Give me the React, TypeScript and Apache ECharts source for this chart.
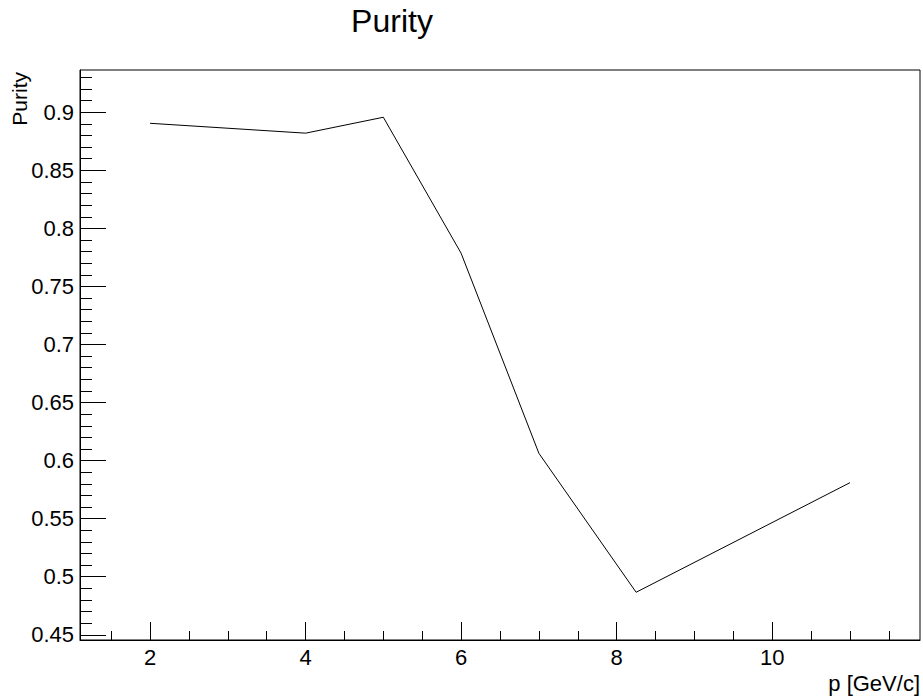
import React, { useEffect, useRef } from "react";
import * as echarts from "echarts";

const momentum = [2, 4, 5, 6, 7, 8.25, 11];
const purity = [0.8905, 0.882, 0.8957, 0.7786, 0.6063, 0.4866, 0.581];

const xMajorTicks = [2, 4, 6, 8, 10];
const xMinorTicks = [1.5, 2.5, 3, 3.5, 4.5, 5, 5.5, 6.5, 7, 7.5, 8.5, 9, 9.5, 10.5, 11, 11.5];
const yMajorTicks = [0.45, 0.5, 0.55, 0.6, 0.65, 0.7, 0.75, 0.8, 0.85, 0.9];
const yMinorTicks = [
  0.46, 0.47, 0.48, 0.49, 0.51, 0.52, 0.53, 0.54, 0.56, 0.57, 0.58, 0.59,
  0.61, 0.62, 0.63, 0.64, 0.66, 0.67, 0.68, 0.69, 0.71, 0.72, 0.73, 0.74,
  0.76, 0.77, 0.78, 0.79, 0.81, 0.82, 0.83, 0.84, 0.86, 0.87, 0.88, 0.89,
  0.91, 0.92, 0.93,
];

const X_MIN = 1.1;
const X_MAX = 11.9;
const Y_MIN = 0.4455;
const Y_MAX = 0.9364;

const FONT = '"Liberation Sans", Arial, Helvetica, sans-serif';

export default function App() {
  const ref = useRef<HTMLDivElement>(null);

  useEffect(() => {
    if (!ref.current) return;
    const chart = echarts.init(ref.current, null, { renderer: "svg" });
    const black = "#000";
    const option: any = {
      animation: false,
      backgroundColor: "#fff",
      grid: {
        left: 80,
        right: 3,
        top: 70,
        bottom: 57,
        show: true,
        borderColor: black,
        borderWidth: 1,
        backgroundColor: "transparent",
      },
      xAxis: [
        {
          type: "value",
          min: X_MIN,
          max: X_MAX,
          position: "bottom",
          axisLine: { show: true, lineStyle: { color: black, width: 1 } },
          axisTick: { show: true, inside: true, length: 18, customValues: xMajorTicks, lineStyle: { color: black } },
          axisLabel: { customValues: xMajorTicks, color: black, fontSize: 22, fontFamily: FONT, margin: 6 },
          splitLine: { show: false },
        },
        {
          type: "value",
          min: X_MIN,
          max: X_MAX,
          position: "bottom",
          axisLine: { show: false },
          axisTick: { show: true, inside: true, length: 9, customValues: xMinorTicks, lineStyle: { color: black } },
          axisLabel: { show: false },
          splitLine: { show: false },
        },
      ],
      yAxis: [
        {
          type: "value",
          min: Y_MIN,
          max: Y_MAX,
          position: "left",
          axisLine: { show: true, lineStyle: { color: black, width: 1 } },
          axisTick: { show: true, inside: true, length: 26, customValues: yMajorTicks, lineStyle: { color: black } },
          axisLabel: { customValues: yMajorTicks, color: black, fontSize: 22, fontFamily: FONT, margin: 6 },
          splitLine: { show: false },
        },
        {
          type: "value",
          min: Y_MIN,
          max: Y_MAX,
          position: "left",
          axisLine: { show: false },
          axisTick: { show: true, inside: true, length: 12, customValues: yMinorTicks, lineStyle: { color: black } },
          axisLabel: { show: false },
          splitLine: { show: false },
        },
      ],
      graphic: [
        {
          type: "text",
          x: 392,
          y: 21,
          style: { text: "Purity", fill: black, font: `32px ${FONT}`, align: "center", verticalAlign: "middle" },
        },
        {
          type: "text",
          x: 19.5,
          y: 72,
          rotation: Math.PI / 2,
          style: { text: "Purity", fill: black, font: `21px ${FONT}`, align: "right", verticalAlign: "middle" },
        },
        {
          type: "text",
          x: 920,
          y: 683,
          style: { text: "p [GeV/c]", fill: black, font: `22px ${FONT}`, align: "right", verticalAlign: "middle" },
        },
      ],
      series: [
        {
          type: "line",
          xAxisIndex: 0,
          yAxisIndex: 0,
          data: momentum.map((x, i) => [x, purity[i]]),
          symbol: "none",
          showSymbol: false,
          lineStyle: { color: black, width: 1 },
          z: 5,
        },
      ],
    };
    chart.setOption(option);
    return () => chart.dispose();
  }, []);

  return (
    <div
      ref={ref}
      style={{ position: "fixed", left: 0, top: 0, width: 923, height: 697, background: "#fff" }}
    />
  );
}
